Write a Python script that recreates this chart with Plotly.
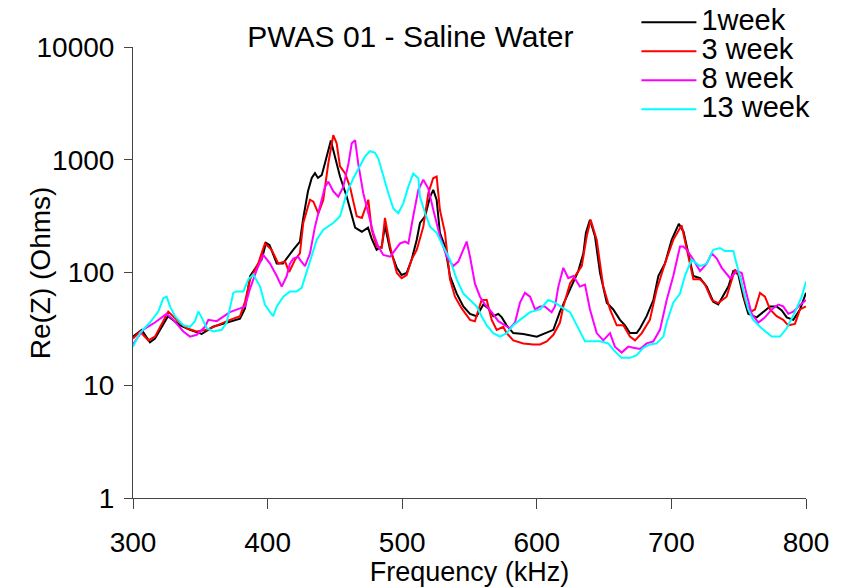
import plotly.graph_objects as go

# ---- data (frequency in kHz, Re(Z) in Ohms) ----
f_1week = [300, 306.5, 312.6, 316.3, 326, 335, 342.3, 351, 359.4, 372, 379.5, 383.2, 387, 392, 395.6, 398.8,
           401.5, 406.8, 411.4, 419, 424, 426.3, 430, 432.8, 435.2, 437.4, 440.2, 442.6, 445, 447, 450, 453.8,
           458.8, 465, 470, 474.6, 477.3, 481, 484.8, 487.2, 491, 496, 499.6, 503.3, 507, 510.8, 513.2, 517,
           520.7, 523.1, 525.6, 528, 531.8, 535.5, 540.5, 545.4, 550.4, 555.3, 560.3, 564, 567.7, 571.4, 574,
           577.6, 582.5, 590, 600, 604.8, 612.3, 617.2, 624.7, 630.8, 634.6, 636.5, 639.5, 643.2, 647, 652,
           656.8, 661.8, 665.5, 669.2, 674.2, 676.7, 681.6, 686.6, 690.3, 695.2, 700.2, 705.5, 709, 711.4,
           716.3, 721.3, 726.2, 731.1, 734.8, 737.4, 742.3, 746, 749.7, 753.4, 757.1, 763.4, 768.3, 773.3,
           778.2, 782, 785.7, 790.6, 795.5, 800]
z_1week = [27, 31, 24, 26, 41, 34, 31, 28.5, 33, 37, 39, 48, 93, 114, 130, 183,
           175, 120, 120, 159, 188, 294, 525, 690, 760, 690, 730, 930, 1230, 1480, 1070, 710,
           470, 250, 230, 250, 200, 159, 170, 260, 159, 110, 95, 99, 130, 195, 275, 315,
           470, 540, 440, 225, 170, 93, 65, 50, 43, 41, 52, 48, 41, 43, 40,
           34, 29, 28.5, 27, 28.5, 31, 45, 70, 103, 148, 225, 294, 210, 99, 54,
           47, 38, 34, 29, 29, 32, 41, 57, 93, 120, 195, 270, 230, 170,
           93, 89, 75, 55, 52, 59, 75, 103, 96, 61, 43, 40, 44.5, 50,
           50, 46, 40, 38, 47, 66]

f_3week = [300, 305.2, 311.4, 316.3, 326.2, 332.5, 339.9, 347.3, 354.8, 362.2, 372, 379.5, 383.2, 387, 393,
           398, 403, 408, 413, 416, 420.4, 424, 426.5, 431.5, 434, 437.7, 441.4, 445, 448.8, 451.3, 453.8,
           457.5, 461.2, 466.2, 470, 474.8, 477.3, 481, 484.8, 487.2, 491, 496, 499.6, 503.3, 507, 510.8,
           515.7, 519.4, 523, 525.6, 528, 531.8, 535.5, 539.2, 544.2, 550.4, 554, 559, 562.8, 566.5, 570.2,
           575.1, 577.6, 582.5, 590, 597.4, 602.4, 607.4, 612.3, 617.2, 619.7, 624.7, 629.6, 633.4, 637.1,
           640, 644.5, 649.4, 654.4, 659.4, 664.3, 669.2, 673, 678, 684, 689, 695.2, 701.4, 707.6, 711.4,
           716.3, 721.3, 725, 730, 734.8, 741, 747.2, 750.9, 754.6, 758.4, 762.1, 765.8, 769.5, 773.3,
           778.2, 783.1, 786.8, 791.8, 795.5, 800]
z_3week = [26, 30, 25, 27, 45, 38, 32, 30, 31, 34, 38, 41, 55, 87, 120,
           181, 159, 120, 125, 101, 130, 148, 275, 442, 425, 335, 442, 915, 1650, 1400, 875,
           760, 575, 315, 305, 442, 240, 170, 165, 305, 170, 99, 89, 95, 130, 159,
           255, 505, 685, 710, 360, 225, 87, 61, 48, 38, 37, 57, 57, 38, 31,
           33, 29, 25, 23.5, 23, 23, 24.5, 28, 36, 50, 80, 99, 114, 210,
           294, 195, 75, 47, 34, 34, 27, 25, 29, 38, 70, 120, 195, 262, 165,
           87, 87, 78, 57, 53.5, 61, 106, 93, 57, 44.5, 47, 66, 61, 47,
           41, 38, 34, 35, 47, 50]

f_8week = [300, 307.4, 316.3, 325, 330, 337.4, 342.3, 347.3, 353.5, 356, 362.2, 372, 379.5, 383.2, 387, 392,
           396.8, 401.8, 406.8, 410.5, 414.2, 416.6, 419.1, 422.8, 424, 427.8, 431.5, 435.2, 438.9, 442.6,
           445.1, 448.8, 452.5, 456.2, 460, 462.5, 465, 467.4, 471.1, 474.8, 478.5, 482.2, 486, 491, 494.7,
           498.4, 502.1, 504.6, 508.3, 512, 515.7, 519.4, 523.1, 528, 533, 538, 541.7, 545.4, 547.9, 550.4,
           554, 557.8, 561.5, 566.5, 571.4, 576.4, 580, 583.8, 587.5, 591.2, 595, 598.7, 602.4, 606, 611,
           613.5, 616, 619.7, 623.4, 627.1, 632, 635.8, 639.5, 644.5, 649.4, 654.4, 658, 663, 668, 671.7,
           676.7, 681.6, 686.6, 691.5, 696.5, 701.4, 706.4, 708.8, 711.4, 716.3, 721.3, 726.2, 730, 733.7,
           737.4, 743.6, 748.6, 752.3, 756, 759.7, 764.6, 769.5, 774.5, 779.4, 783.1, 786.8, 790.6, 794.3, 800]
z_8week = [23, 31, 36, 43, 38, 30, 27, 28, 33, 38, 37, 44.5, 48, 50, 72, 106,
           143, 120, 93, 75, 93, 120, 133, 138, 130, 114, 148, 255, 385, 575,
           640, 525, 470, 575, 915, 1400, 1490, 915, 505, 335, 225, 170, 143, 138, 159,
           181, 188, 181, 320, 540, 665, 555, 360, 210, 138, 114, 125, 159, 188, 138,
           80, 61, 52, 44.5, 37, 34, 32, 36, 54, 66, 61, 47, 50, 50, 44.5,
           50, 75, 110, 89, 93, 75, 78, 47, 29, 25, 29, 22, 19.5, 22, 21.5,
           21, 23.5, 24.5, 31, 57, 93, 170, 170, 159, 130, 103, 120, 148, 133,
           110, 89, 103, 99, 63, 43, 36, 40, 47, 52, 50, 43, 45, 50, 57]

f_13week = [300, 305.2, 312.6, 318.8, 322.5, 325, 327.5, 331.2, 337.4, 342.3, 346, 348.5, 351, 354.8, 359.7,
            365.9, 369.6, 372, 374.5, 377, 382, 385.7, 389.4, 394.4, 398, 401.8, 404.2, 406.8, 411.7, 416.6,
            421.6, 425.3, 431.5, 436.5, 441.4, 448.8, 453.8, 458.8, 463.7, 468.6, 472.4, 476, 479.8, 482.2,
            486, 489.7, 493.4, 497.1, 500.8, 504.5, 508.2, 512, 513.2, 517, 520.7, 525.6, 530.5, 535.5, 540.5,
            545.4, 550.4, 555.3, 559, 562.8, 567.7, 572.7, 577.6, 582.5, 587.5, 595, 602.4, 608.5, 613.5,
            619.7, 624.7, 629.6, 635.8, 647, 653.1, 658, 663, 669.2, 674.2, 679.1, 684, 689, 694, 696.5,
            701.4, 706.4, 710, 715, 721.3, 726.2, 731.1, 736, 739.8, 746, 749.7, 753.4, 757.1, 760.8, 767,
            774.5, 780.7, 785.7, 791.8, 796.8, 800]
z_13week = [22, 29, 36, 45, 59, 61, 50, 41, 34, 33, 37, 45, 40, 32, 30,
            31, 36, 48, 66, 68, 68, 87, 96, 75, 52, 44.5, 41, 50, 61, 68,
            68, 73, 125, 195, 240, 275, 315, 505, 685, 875, 1070, 1190, 1150, 1030,
            710, 505, 370, 335, 410, 575, 755, 685, 470, 335, 255, 225, 170, 130, 87,
            65, 57, 50, 41, 34, 29, 27, 29, 34, 38, 44.5, 47, 57, 54,
            48, 44.5, 34, 24.5, 24.5, 23.5, 20, 17.5, 17.5, 18.5, 21.5, 23, 23.5, 27, 36,
            54, 65, 93, 130, 114, 120, 159, 165, 155, 155, 106, 70, 47, 38, 32,
            27, 27, 32, 44.5, 61, 83]

series_names = ["1week", "3 week", "8 week", "13 week"]
series_colors = ["#000000", "#FF0000", "#FF00FF", "#00FFFF"]
series_f = [f_1week, f_3week, f_8week, f_13week]
series_z = [z_1week, z_3week, z_8week, z_13week]

title_text = "PWAS 01 - Saline Water"
x_title = "Frequency (kHz)"
y_title = "Re(Z) (Ohms)"
x_ticks = [300, 400, 500, 600, 700, 800]
y_ticks = [1, 10, 100, 1000, 10000]

FONT = "Arial, 'Liberation Sans', sans-serif"

fig = go.Figure()
for name, color, fx, zy in zip(series_names, series_colors, series_f, series_z):
    fig.add_trace(go.Scatter(x=fx, y=zy, mode="lines",
                             name='<span style="font-size:29px">' + name + '</span>',
                             line=dict(color=color, width=2)))

fig.update_layout(
    width=848, height=587,
    margin=dict(l=133, r=42, t=47, b=89, autoexpand=False),
    paper_bgcolor="white", plot_bgcolor="white",
    font=dict(family=FONT, size=28, color="black"),
    title=dict(text=title_text, x=0.484, xref="container", y=0.937, yref="container",
               xanchor="center", yanchor="middle", font=dict(size=30)),
    legend=dict(x=0.748, y=1.098, xanchor="left", yanchor="top", bgcolor="rgba(0,0,0,0)",
                font=dict(size=20), itemwidth=55, tracegroupgap=0),
    showlegend=True,
    annotations=[dict(text=y_title, xref="paper", yref="paper", x=-0.137, y=0.5,
                      xanchor="center", yanchor="middle", textangle=-90, showarrow=False,
                      font=dict(size=28))],
)
fig.update_xaxes(range=[300, 800], tickvals=x_ticks, ticktext=[str(v) for v in x_ticks],
                 showgrid=False, zeroline=False, showline=True, linecolor="#444", linewidth=1,
                 ticks="outside", ticklen=10, tickcolor="#444", tickfont=dict(size=28),
                 ticklabelstandoff=9, automargin=False,
                 title=dict(text=x_title, standoff=13, font=dict(size=27)))
fig.update_yaxes(type="log", range=[0, 4], tickvals=y_ticks, ticktext=[str(v) for v in y_ticks],
                 showgrid=False, zeroline=False, showline=True, linecolor="#444", linewidth=1,
                 ticks="outside", ticklen=8, tickcolor="#444", tickfont=dict(size=28),
                 ticklabelstandoff=4, automargin=False)

fig.write_html("out.html")
